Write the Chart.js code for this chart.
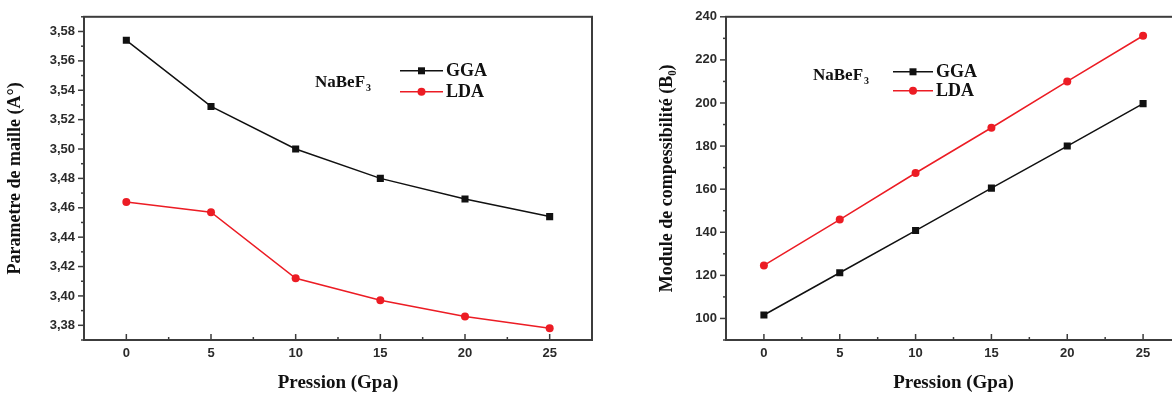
<!DOCTYPE html>
<html>
<head>
<meta charset="utf-8">
<script src="https://cdn.jsdelivr.net/npm/chart.js@4.4.1/dist/chart.umd.min.js"></script>
<style>
  html, body { margin: 0; padding: 0; background: #fff; overflow: hidden; width: 1172px; height: 395px; }
  canvas { position: absolute; top: 0; }
  #latticeChart { left: 0; }
  #bulkChart { left: 640px; }
</style>
</head>
<body>
<canvas id="latticeChart" width="600" height="395"></canvas>
<canvas id="bulkChart" width="549" height="395"></canvas>
<script>
const pressure = [0, 5, 10, 15, 20, 25];
const latticeGGA = [3.574, 3.529, 3.500, 3.480, 3.466, 3.454];
const latticeLDA = [3.464, 3.457, 3.412, 3.397, 3.386, 3.378];
const bulkGGA = [101.6, 121.2, 140.8, 160.5, 180.0, 199.7];
const bulkLDA = [124.6, 145.9, 167.5, 188.5, 210.0, 231.2];

const pressureTicks = [0, 5, 10, 15, 20, 25];
const latticeTicks = [3.38, 3.40, 3.42, 3.44, 3.46, 3.48, 3.50, 3.52, 3.54, 3.56, 3.58];
const bulkTicks = [100, 120, 140, 160, 180, 200, 220, 240];
const seriesLabels = ["GGA", "LDA"];
const compound = ["NaBeF", "3"];

const RED = "#ec1c24";
const INK = "#111";
const FRAME = "#3c3c3c";
const SERIF = '"Liberation Serif", "Times New Roman", serif';
const SANS = '"Liberation Sans", Arial, sans-serif';

function points(ys) {
  return pressure.map((x, i) => ({ x, y: ys[i] }));
}

// frame, inward x ticks, outward y ticks, minor ticks halfway between majors
const framePlugin = {
  id: "frame",
  afterDraw(chart) {
    const { ctx, chartArea: a, scales } = chart;
    ctx.save();
    ctx.strokeStyle = FRAME;
    ctx.lineWidth = 2;
    ctx.strokeRect(a.left, a.top, a.right - a.left, a.bottom - a.top);

    ctx.lineWidth = 1.5;
    const xt = chart.options.plugins.frame.xTicks;
    for (let i = 0; i < xt.length; i++) {
      const px = scales.x.getPixelForValue(xt[i]);
      ctx.beginPath(); ctx.moveTo(px, a.bottom); ctx.lineTo(px, a.bottom - 6); ctx.stroke();
      if (i < xt.length - 1) {
        const mx = scales.x.getPixelForValue((xt[i] + xt[i + 1]) / 2);
        ctx.beginPath(); ctx.moveTo(mx, a.bottom); ctx.lineTo(mx, a.bottom - 3); ctx.stroke();
      }
    }
    const yt = chart.options.plugins.frame.yTicks;
    const step = yt[1] - yt[0];
    for (let i = 0; i < yt.length; i++) {
      const py = scales.y.getPixelForValue(yt[i]);
      ctx.beginPath(); ctx.moveTo(a.left, py); ctx.lineTo(a.left - 6, py); ctx.stroke();
    }
    for (let v = yt[0] - step / 2; v <= scales.y.max + 1e-9; v += step) {
      if (v < scales.y.min) continue;
      const py = scales.y.getPixelForValue(v);
      ctx.beginPath(); ctx.moveTo(a.left, py); ctx.lineTo(a.left - 3, py); ctx.stroke();
    }
    ctx.restore();
  }
};

// in-plot legend with compound name
const notePlugin = {
  id: "note",
  afterDraw(chart) {
    const o = chart.options.plugins.note;
    const { ctx, chartArea: a } = chart;
    const lx = a.left + o.lineX, nx = a.left + o.nameX;
    ctx.save();
    ctx.font = "bold 17px " + SERIF;
    ctx.fillStyle = INK;
    ctx.textBaseline = "middle";
    ctx.fillText(compound[0], nx, a.top + o.nameY);
    const w = ctx.measureText(compound[0]).width;
    ctx.font = "bold 10px " + SERIF;
    ctx.fillText(compound[1], nx + w + 1, a.top + o.nameY + 6);

    chart.data.datasets.forEach((ds, i) => {
      const y = a.top + o.rowY[i];
      ctx.strokeStyle = ds.borderColor;
      ctx.lineWidth = 1.5;
      ctx.beginPath(); ctx.moveTo(lx, y); ctx.lineTo(lx + o.lineW, y); ctx.stroke();
      ctx.fillStyle = ds.backgroundColor;
      const cx = lx + o.lineW / 2;
      if (ds.pointStyle === "rect") {
        ctx.fillRect(cx - 3.5, y - 3.5, 7, 7);
      } else {
        ctx.beginPath(); ctx.arc(cx, y, 4, 0, Math.PI * 2); ctx.fill();
      }
      ctx.fillStyle = INK;
      ctx.font = "bold 18px " + SERIF;
      ctx.fillText(ds.label, lx + o.lineW + 3, y + 1);
    });
    ctx.restore();
  }
};

function makeChart(canvas, cfg) {
  return new Chart(canvas.getContext("2d"), {
    type: "scatter",
    data: {
      datasets: [
        {
          label: seriesLabels[0],
          data: points(cfg.gga),
          showLine: true,
          borderColor: INK,
          backgroundColor: INK,
          borderWidth: 1.5,
          pointStyle: "rect",
          pointRadius: 5,
          pointBorderWidth: 0
        },
        {
          label: seriesLabels[1],
          data: points(cfg.lda),
          showLine: true,
          borderColor: RED,
          backgroundColor: RED,
          borderWidth: 1.5,
          pointStyle: "circle",
          pointRadius: 4,
          pointBorderWidth: 0
        }
      ]
    },
    options: {
      responsive: false,
      animation: false,
      layout: { padding: { top: 13, right: cfg.padRight, bottom: 0, left: 0 } },
      plugins: {
        legend: { display: false },
        tooltip: { enabled: false },
        frame: { xTicks: pressureTicks, yTicks: cfg.yTicks },
        note: cfg.note
      },
      scales: {
        x: {
          type: "linear",
          min: -2.5,
          max: 27.5,
          afterBuildTicks: (s) => { s.ticks = pressureTicks.map((v) => ({ value: v })); },
          afterFit: (s) => { s.height = 55; },
          grid: { display: false, drawTicks: false },
          border: { display: false },
          ticks: { padding: 6, color: "#2a2a2a", font: { family: SANS, size: 13, weight: "bold" } },
          title: {
            display: true,
            text: "Pression (Gpa)",
            color: INK,
            font: { family: SERIF, size: 19, weight: "bold" },
            padding: { top: 0, bottom: 1 }
          }
        },
        y: {
          min: cfg.yMin,
          max: cfg.yMax,
          afterBuildTicks: (s) => { s.ticks = cfg.yTicks.map((v) => ({ value: v })); },
          afterFit: (s) => { s.width = cfg.yWidth; },
          grid: { display: false, drawTicks: false },
          border: { display: false },
          ticks: {
            padding: 9,
            color: "#2a2a2a",
            font: { family: SANS, size: 13, weight: "bold" },
            callback: cfg.tickFormat
          },
          title: {
            display: true,
            text: cfg.yTitle,
            color: INK,
            font: { family: SERIF, size: 18, weight: "bold" },
            padding: { top: cfg.yTitlePad, bottom: 0 }
          }
        }
      }
    },
    plugins: [framePlugin, notePlugin]
  });
}

makeChart(document.getElementById("latticeChart"), {
  gga: latticeGGA,
  lda: latticeLDA,
  yMin: 3.37,
  yMax: 3.59,
  yTicks: latticeTicks,
  yWidth: 84,
  padRight: 8,
  yTitle: "Parametre de maille (A°)",
  yTitlePad: 5,
  tickFormat: (v) => v.toFixed(2).replace(".", ","),
  note: { nameX: 231, nameY: 66, lineX: 316, lineW: 43, rowY: [54, 75] }
});

makeChart(document.getElementById("bulkChart"), {
  gga: bulkGGA,
  lda: bulkLDA,
  yMin: 90,
  yMax: 240,
  yTicks: bulkTicks,
  yWidth: 86,
  padRight: 8,
  yTitle: "Module de compessibilité (B₀)",
  yTitlePad: 17,
  tickFormat: (v) => String(v),
  note: { nameX: 87, nameY: 59, lineX: 167, lineW: 40, rowY: [55, 74] }
});
</script>
</body>
</html>
